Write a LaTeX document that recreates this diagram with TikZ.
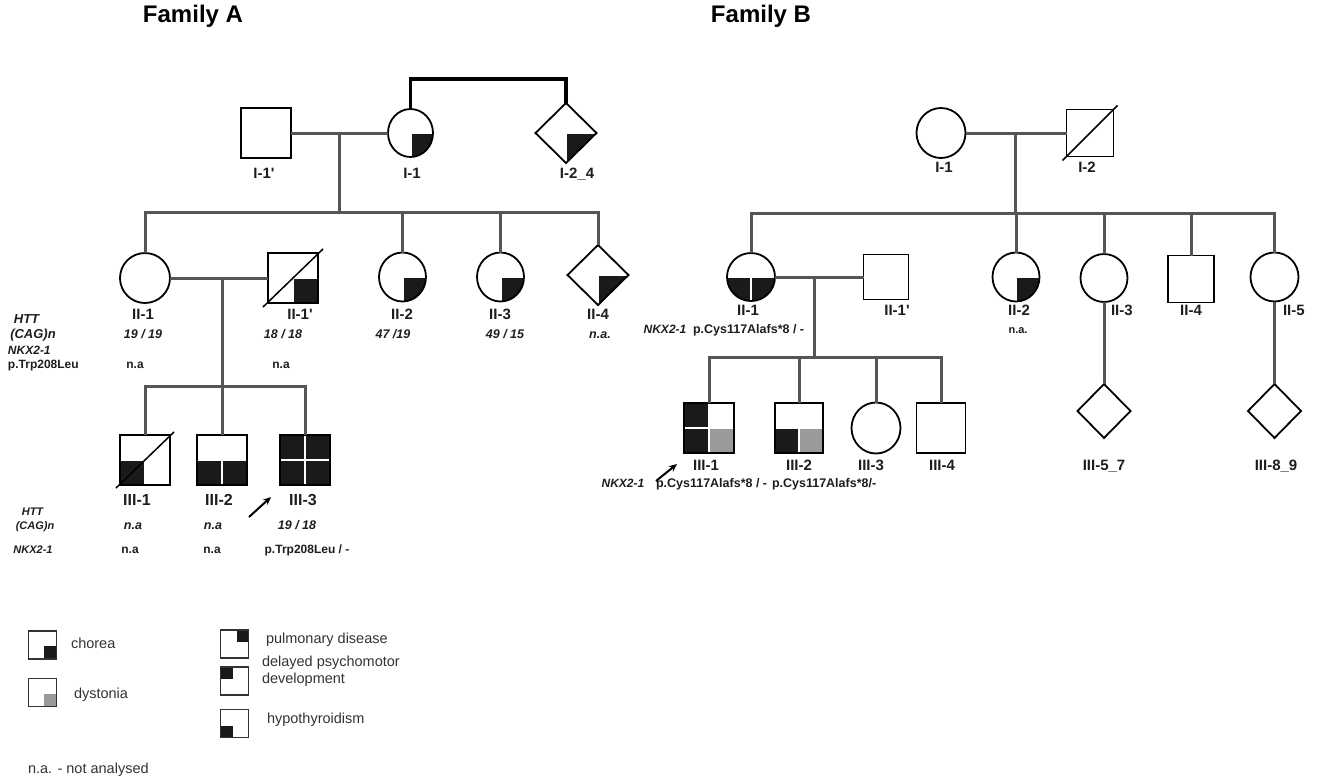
\documentclass[tikz,border=0pt]{standalone}
\usepackage{fontspec}
\setmainfont{Liberation Sans}
\usetikzlibrary{shapes.geometric,calc,arrows.meta}
\definecolor{blk}{HTML}{1A1A1A}
\definecolor{dys}{HTML}{9A9A9A}
\definecolor{lnk}{HTML}{555555}
\definecolor{txt}{HTML}{1E1E1E}
\definecolor{lgc}{HTML}{333333}
\newcommand\QSE[1]{\fill[#1] ($(path picture bounding box.center)+(1.3,1.3)$) rectangle (path picture bounding box.south east);}
\newcommand\QSW[1]{\fill[#1] ($(path picture bounding box.center)+(-1.3,1.3)$) rectangle (path picture bounding box.south west);}
\newcommand\QNE[1]{\fill[#1] ($(path picture bounding box.center)+(1.3,-1.3)$) rectangle (path picture bounding box.north east);}
\newcommand\QNW[1]{\fill[#1] ($(path picture bounding box.center)+(-1.3,-1.3)$) rectangle (path picture bounding box.north west);}
\tikzset{
  every node/.style={inner sep=0pt, outer sep=0pt, text=txt},
  fem/.style={ellipse, draw=black, line width=1.8pt, minimum width=47, minimum height=49},
  mal/.style={rectangle, draw=black, line width=1.8pt, minimum width=50, minimum height=50},
  unk/.style={diamond, draw=black, line width=1.8pt, minimum width=61, minimum height=60},
  conn/.style={draw=lnk, line width=3pt},
  topc/.style={draw=black, line width=3.2pt},
  dead/.style={draw=black, line width=1.5pt},
  arr/.style={draw=black, line width=2pt, -{Stealth[length=8pt,width=7pt]}},
  lbl/.style={font=\bfseries\fontsize{15}{15}\selectfont, anchor=mid},
  lblb/.style={font=\bfseries\fontsize{16}{16}\selectfont, anchor=mid},
  gti/.style={font=\bfseries\itshape\fontsize{12.5}{12.5}\selectfont, anchor=mid},
  gt/.style={font=\bfseries\fontsize{12}{12}\selectfont, anchor=mid},
  gts/.style={font=\bfseries\itshape\fontsize{11}{11}\selectfont, anchor=mid},
  ttl/.style={font=\bfseries\fontsize{24}{24}\selectfont, text=black, anchor=mid},
  lgbox/.style={rectangle, draw=lgc, line width=1.5pt, minimum width=28, minimum height=28},
  lg/.style={font=\fontsize{14.5}{17}\selectfont, text=lgc, anchor=mid west, align=left},
}
\begin{document}
\begin{tikzpicture}[x=1pt, y=-1pt]
\useasboundingbox (0,0) rectangle (1317,782);
\fill[white] (0,0) rectangle (1317,782);

% titles
\node[ttl] (tA) at (193,20) {Family A};
\node[ttl] (tB) at (761,20) {Family B};

% ===================== Family A =====================
\node[mal] (A1p) at (266,133) {};
\node[fem, minimum width=45, minimum height=48, path picture={\QSE{blk}}] (A11) at (410.5,133) {};
\node[unk, path picture={\QSE{blk}}] (A12) at (566,133) {};

\node[fem, minimum width=50, minimum height=50] (A21) at (145,278) {};
\node[mal, path picture={\QSE{blk}}] (A2p) at (293,278) {};
\node[fem, path picture={\QSE{blk}}] (A22) at (402.5,277) {};
\node[fem, path picture={\QSE{blk}}] (A23) at (500.5,277) {};
\node[unk, path picture={\QSE{blk}}] (A24) at (598,275) {};

\node[mal, path picture={\QSW{blk}}] (A31) at (145,460) {};
\node[mal, path picture={\QSW{blk}\QSE{blk}}] (A32) at (222,460) {};
\node[mal, path picture={\QSW{blk}\QSE{blk}\QNW{blk}\QNE{blk}}] (A33) at (305,460) {};

% connectors A
\coordinate (Atop) at (488,79);
\draw[topc] (A11.north) |- (Atop) -| (A12.north);
\draw[conn] (A1p.east) -- (A11.west);
\coordinate (AmI) at (339,133);
\coordinate (AsI) at (339,212);
\draw[conn] (AmI) -- (AsI);
\draw[conn] (A21.north) |- (AsI) -| (A24.north);
\draw[conn] (A22.north) -- (A22.north |- AsI);
\draw[conn] (A23.north) -- (A23.north |- AsI);
\draw[conn] (A21.east) -- (A2p.west);
\coordinate (AmII) at (222,278);
\coordinate (AsII) at (222,386);
\draw[conn] (AmII) -- (AsII);
\draw[conn] (A31.north) |- (AsII) -| (A33.north);
\draw[conn] (A32.north) -- (AsII);

% deceased
\draw[dead] ($(A2p.south west)+(-5,4)$) -- ($(A2p.north east)+(5,-4)$);
\draw[dead] ($(A31.south west)+(-4,3)$) -- ($(A31.north east)+(4,-3)$);

% labels A
\node[lbl] (lA1p) at (264,176) {I-1\textquotesingle};
\node[lbl] (lA11) at (412,176) {I-1};
\node[lbl] (lA12) at (577,176) {I-2\_4};
\node[lbl] (lA21) at (143,317) {II-1};
\node[lbl] (lA2p) at (300,317) {II-1\textquotesingle};
\node[lbl] (lA22) at (402,317) {II-2};
\node[lbl] (lA23) at (500,317) {II-3};
\node[lbl] (lA24) at (598,317) {II-4};
\node[lblb] (lA31) at (137,503) {III-1};
\node[lblb] (lA32) at (219,503) {III-2};
\node[lblb] (lA33) at (303,503) {III-3};

\node[gti, font=\bfseries\itshape\fontsize{13}{13}\selectfont] (hA1) at (26.5,321) {HTT};
\node[gti, font=\bfseries\itshape\fontsize{13}{13}\selectfont] (cA1) at (33,336) {(CAG)n};
\node[gti, font=\bfseries\itshape\fontsize{12}{12}\selectfont, anchor=mid west] (nA1) at (8,352) {NKX2-1};
\node[gt, anchor=mid west] (pA1) at (8,366) {p.Trp208Leu};
\node[gti] (g21) at (143,336) {19 / 19};
\node[gti] (g2p) at (283,336) {18 / 18};
\node[gti] (g22) at (393,336) {47 /19};
\node[gti] (g23) at (505,336) {49 / 15};
\node[gti] (g24) at (600,336) {n.a.};
\node[gt] (n21) at (135,366) {n.a};
\node[gt] (n2p) at (281,366) {n.a};

\node[gts] (hA3) at (32.5,513) {HTT};
\node[gts] (cA3) at (35,527) {(CAG)n};
\node[gts] (nA3) at (33,551) {NKX2-1};
\node[gti] (g31) at (133,527) {n.a};
\node[gti] (g32) at (213,527) {n.a};
\node[gti] (g33) at (297,527) {19 / 18};
\node[gt] (n31) at (130,551) {n.a};
\node[gt] (n32) at (212,551) {n.a};
\node[gt] (n33) at (307,551) {p.Trp208Leu / -};

\coordinate (arA0) at (249,517);
\coordinate (arA1) at (271,497);
\draw[arr] (arA0) -- (arA1);

% ===================== Family B =====================
\node[fem, minimum width=49, minimum height=50] (B11) at (941,133) {};
\node[mal, minimum width=47, minimum height=47] (B12) at (1090,133) {};

\node[fem, minimum width=48, minimum height=48, path picture={\QSW{blk}\QSE{blk}}] (B21) at (751,277) {};
\node[mal, minimum width=45, minimum height=45] (B2p) at (886,277) {};
\node[fem, path picture={\QSE{blk}}] (B22) at (1016,277) {};
\node[fem, minimum height=48] (B23) at (1104,278) {};
\node[mal, minimum width=46, minimum height=47] (B24) at (1191,279) {};
\node[fem, minimum width=48, minimum height=49] (B25) at (1274.5,277) {};

\node[mal, path picture={\QNW{blk}\QSW{blk}\QSE{dys}}] (B31) at (709,428) {};
\node[mal, minimum width=48, path picture={\QSW{blk}\QSE{dys}}] (B32) at (799,428) {};
\node[fem, minimum width=49, minimum height=51] (B33) at (876,428) {};
\node[mal, minimum width=49] (B34) at (941,428) {};
\node[unk, minimum width=53, minimum height=54] (B35) at (1104,411) {};
\node[unk, minimum width=53, minimum height=54] (B36) at (1274.5,411) {};

% connectors B
\draw[conn] (B11.east) -- (B12.west);
\coordinate (BmI) at (1015,133);
\coordinate (BsI) at (1015,213);
\draw[conn] (BmI) -- (BsI);
\draw[conn] (B21.north) |- (BsI) -| (B25.north);
\draw[conn] (B22.north) -- (B22.north |- BsI);
\draw[conn] (B23.north) -- (B23.north |- BsI);
\draw[conn] (B24.north) -- (B24.north |- BsI);
\draw[conn] (B21.east) -- (B2p.west);
\coordinate (BmII) at (814,277);
\coordinate (BsII) at (814,357);
\draw[conn] (BmII) -- (BsII);
\draw[conn] (B31.north) |- (BsII) -| (B34.north);
\draw[conn] (B32.north) -- (B32.north |- BsII);
\draw[conn] (B33.north) -- (B33.north |- BsII);
\draw[conn] (B23.south) -- (B35.north);
\draw[conn] (B25.south) -- (B36.north);

\draw[dead] ($(B12.south west)+(-4,4)$) -- ($(B12.north east)+(4,-4)$);

% labels B
\node[lbl] (lB11) at (944,170) {I-1};
\node[lbl] (lB12) at (1087,170) {I-2};
\node[lbl] (lB21) at (748,313) {II-1};
\node[lbl] (lB2p) at (897,313) {II-1\textquotesingle};
\node[lbl] (lB22) at (1019,313) {II-2};
\node[lbl, anchor=mid west] (lB23) at (1111,313) {II-3};
\node[lbl] (lB24) at (1191,313) {II-4};
\node[lbl, anchor=mid west] (lB25) at (1283,313) {II-5};
\node[lbl] (lB31) at (706,468) {III-1};
\node[lbl] (lB32) at (799,468) {III-2};
\node[lbl] (lB33) at (871,468) {III-3};
\node[lbl] (lB34) at (942,468) {III-4};
\node[lbl] (lB35) at (1104,468) {III-5\_7};
\node[lbl] (lB36) at (1276,468) {III-8\_9};

\node[gti, font=\bfseries\itshape\fontsize{12}{12}\selectfont] (nB2) at (665,331) {NKX2-1};
\node[gt, font=\bfseries\fontsize{12.5}{12.5}\selectfont, anchor=mid west] (pB21) at (693,331) {p.Cys117Alafs*8 / -};
\node[gt, font=\bfseries\fontsize{11}{11}\selectfont] (pB22) at (1018,331) {n.a.};
\node[gti, font=\bfseries\itshape\fontsize{12}{12}\selectfont] (nB3) at (623,485) {NKX2-1};
\node[gt, font=\bfseries\fontsize{12.5}{12.5}\selectfont, anchor=mid west] (pB31) at (656,485) {p.Cys117Alafs*8 / -};
\node[gt, font=\bfseries\fontsize{12.5}{12.5}\selectfont, anchor=mid west] (pB32) at (772,485) {p.Cys117Alafs*8/-};

\coordinate (arB0) at (656,481);
\coordinate (arB1) at (677,464);
\draw[arr] (arB0) -- (arB1);

% ===================== Legend =====================
\node[lgbox, path picture={\QSE{blk}}] (Lch) at (42.5,645) {};
\node[lgbox, path picture={\QSE{dys}}] (Ldy) at (42.5,692.5) {};
\node[lgbox, path picture={\fill[blk] (path picture bounding box.north east) rectangle ++(-12,12);}] (Lpu) at (234.5,644) {};
\node[lgbox, path picture={\fill[blk] (path picture bounding box.north west) rectangle ++(12,12);}] (Lde) at (234.5,681) {};
\node[lgbox, path picture={\fill[blk] (path picture bounding box.south west) rectangle ++(12,-12);}] (Lhy) at (234.5,723.5) {};

\node[lg] (tch) at (71,646) {chorea};
\node[lg] (tdy) at (74,696) {dystonia};
\node[lg] (tpu) at (266,641) {pulmonary disease};
\node[lg] (tde) at (262,681) {delayed psychomotor\\development};
\node[lg] (thy) at (267,721) {hypothyroidism};
\node[lg] (tna) at (28,771) {n.a. - not analysed};
\end{tikzpicture}
\end{document}
